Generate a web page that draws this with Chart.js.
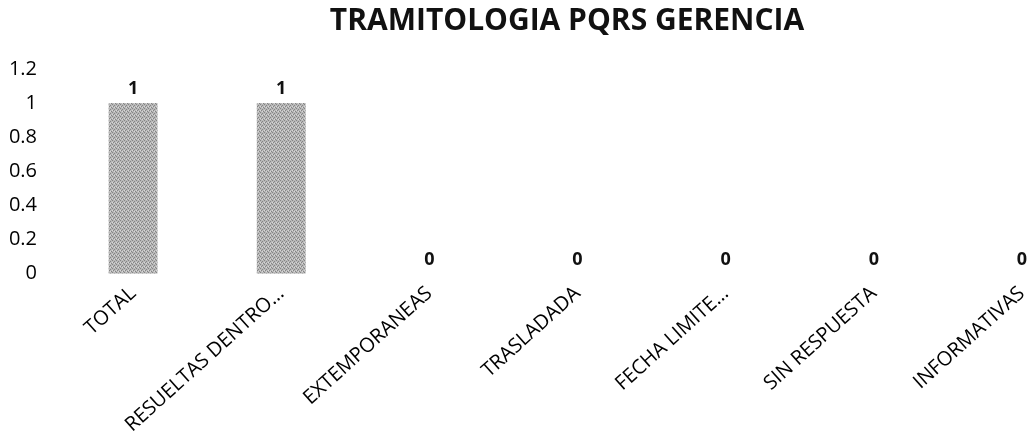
<!DOCTYPE html>
<html>
<head>
<meta charset="utf-8">
<style>
  body { margin: 0; background: #fff; }
  #wrap { width: 1029px; height: 443px; overflow: hidden; }
</style>
</head>
<body>
<div id="wrap">
  <canvas id="chart" width="1130" height="443"></canvas>
</div>

<script src="https://cdn.jsdelivr.net/npm/chart.js"></script>

<script>
  // values
  const categories = ['TOTAL', 'RESUELTAS DENTRO…', 'EXTEMPORANEAS', 'TRASLADADA', 'FECHA LIMITE…', 'SIN RESPUESTA', 'INFORMATIVAS'];
  const counts = [1, 1, 0, 0, 0, 0, 0];
  const yTicks = [0, 0.2, 0.4, 0.6, 0.8, 1, 1.2];

  const FONT = '"Open Sans", Lato, sans-serif';

  // small fixed dither tile, to get the speckled grey of the printed bars
  function speckle() {
    const tile = document.createElement('canvas');
    tile.width = 4;
    tile.height = 4;
    const c = tile.getContext('2d');
    c.fillStyle = '#b8b8b8';
    c.fillRect(0, 0, 4, 4);
    c.fillStyle = '#858585';
    [[0, 0], [2, 1], [1, 2], [3, 3]].forEach(([x, y]) => c.fillRect(x, y, 1, 1));
    c.fillStyle = '#d8d8d8';
    [[2, 3], [0, 2]].forEach(([x, y]) => c.fillRect(x, y, 1, 1));
    return c.createPattern(tile, 'repeat');
  }

  // draws the value above each bar
  const valueLabels = {
    id: 'valueLabels',
    afterDatasetsDraw(chart) {
      const ctx = chart.ctx;
      const meta = chart.getDatasetMeta(0);
      ctx.save();
      ctx.font = 'bold 18px ' + FONT;
      ctx.fillStyle = '#111';
      ctx.textAlign = 'center';
      ctx.textBaseline = 'bottom';
      meta.data.forEach((bar, i) => {
        ctx.fillText(String(counts[i]), bar.x, bar.y - 5);
      });
      ctx.restore();
    }
  };

  // the scanned title sits a little right of the plot centre
  const titleShift = {
    id: 'titleShift',
    beforeDraw(chart) {
      const t = chart.titleBlock;
      if (t && !t._shifted) {
        t.left += 15;
        t.right += 15;
        t._shifted = true;
      }
    }
  };

  new Chart(document.getElementById('chart'), {
    type: 'bar',
    data: {
      labels: categories,
      datasets: [{
        data: counts,
        backgroundColor: speckle(),
        borderWidth: 0,
        barPercentage: 0.33,
        categoryPercentage: 1
      }]
    },
    options: {
      responsive: false,
      animation: false,
      layout: { padding: { left: 8, right: 34, bottom: 6 } },
      plugins: {
        legend: { display: false },
        tooltip: { enabled: false },
        title: {
          display: true,
          text: 'TRAMITOLOGIA PQRS GERENCIA',
          color: '#111',
          font: { family: FONT, size: 30, weight: 'bold' },
          padding: { top: 3, bottom: 30 }
        }
      },
      scales: {
        x: {
          grid: { display: false },
          border: { display: false },
          ticks: {
            autoSkip: false,
            minRotation: 42,
            maxRotation: 42,
            padding: 0,
            color: '#000',
            font: { family: FONT, size: 20 }
          }
        },
        y: {
          min: 0,
          max: 1.2,
          afterBuildTicks(axis) {
            axis.ticks = yTicks.map(v => ({ value: v }));
          },
          afterFit(axis) {
            axis.width = 51;
          },
          grid: { display: false },
          border: { display: false },
          ticks: {
            padding: 14,
            color: '#000',
            font: { family: FONT, size: 20 },
            callback: v => String(v)
          }
        }
      }
    },
    plugins: [valueLabels, titleShift]
  });
</script>
</body>
</html>
